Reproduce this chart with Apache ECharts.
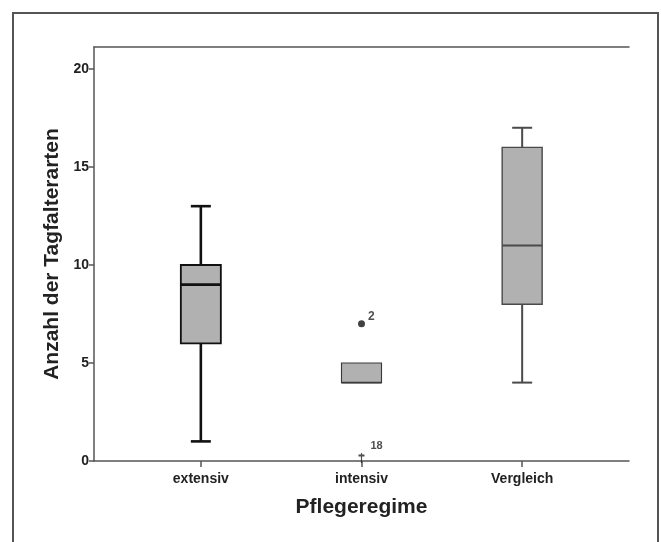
<!DOCTYPE html>
<html>
<head>
<meta charset="utf-8">
<script src="https://cdn.jsdelivr.net/npm/echarts@6/dist/echarts.min.js"></script>
<style>
  html, body { margin: 0; padding: 0; background: #fff; }
  #chart { width: 661px; height: 542px; }
</style>
</head>
<body>
<div id="chart"></div>
<script>
// Boxplot: Anzahl der Tagfalterarten je Pflegeregime
var categories = ['extensiv', 'intensiv', 'Vergleich'];
var mins    = [1, 4, 4];
var q1s     = [6, 4, 8];
var medians = [9, 4, 11];
var q3s     = [10, 5, 16];
var maxs    = [13, 5, 17];
// outliers: [category index, value, case label]
var outlierCat   = [1, 1];
var outlierVal   = [7, 0];
var outlierLabel = ['2', '18'];
var yTicks = [0, 5, 10, 15, 20];

// styles per box
var strokeColors = ['#111', '#3a3a3a', '#4a4a4a'];
var strokeWidths = [2.6, 1.6, 2];

var boxData = categories.map(function (c, i) {
  return [i + 1, mins[i], q1s[i], medians[i], q3s[i], maxs[i]];
});
var dotData = outlierCat.map(function (c, i) {
  return [c + 1, outlierVal[i], outlierLabel[i]];
});

var chart = echarts.init(document.getElementById('chart'));

function renderBox(params, api) {
  var i = params.dataIndex;
  var x = api.value(0);
  var pMin = api.coord([x, api.value(1)]);
  var pQ1 = api.coord([x, api.value(2)]);
  var pMed = api.coord([x, api.value(3)]);
  var pQ3 = api.coord([x, api.value(4)]);
  var pMax = api.coord([x, api.value(5)]);
  var cx = pMed[0];
  var hw = 20, cw = 10;
  var col = strokeColors[i], lw = strokeWidths[i];
  var line = { stroke: col, lineWidth: lw };
  var children = [];
  if (pMin[1] > pQ1[1] + 0.5) {
    children.push({ type: 'line', shape: { x1: cx, y1: pQ1[1], x2: cx, y2: pMin[1] }, style: line });
    children.push({ type: 'line', shape: { x1: cx - cw, y1: pMin[1], x2: cx + cw, y2: pMin[1] }, style: line });
  }
  if (pMax[1] < pQ3[1] - 0.5) {
    children.push({ type: 'line', shape: { x1: cx, y1: pQ3[1], x2: cx, y2: pMax[1] }, style: line });
    children.push({ type: 'line', shape: { x1: cx - cw, y1: pMax[1], x2: cx + cw, y2: pMax[1] }, style: line });
  }
  children.push({
    type: 'rect',
    shape: { x: cx - hw, y: pQ3[1], width: hw * 2, height: pQ1[1] - pQ3[1] },
    style: { fill: '#b1b1b1', stroke: col, lineWidth: lw * 0.7 }
  });
  children.push({ type: 'line', shape: { x1: cx - hw, y1: pMed[1], x2: cx + hw, y2: pMed[1] }, style: line });
  return { type: 'group', children: children };
}

var axisLineStyle = { color: '#555', width: 1.5 };
var fontFam = '"Liberation Sans", Arial, sans-serif';

chart.setOption({
  backgroundColor: '#fff',
  animation: false,
  graphic: [{
    type: 'rect',
    shape: { x: 13, y: 13, width: 645, height: 600 },
    style: { fill: 'none', stroke: '#555', lineWidth: 2 },
    silent: true
  }],
  grid: { left: 94, top: 47, right: 32, bottom: 81 },
  xAxis: [{
    type: 'value',
    min: 0.335,
    max: 3.665,
    axisLine: { show: true, onZero: false, lineStyle: axisLineStyle },
    axisTick: { show: true, length: 6, customValues: [1, 2, 3], lineStyle: axisLineStyle },
    axisLabel: {
      customValues: [1, 2, 3],
      formatter: function (v) { return categories[Math.round(v) - 1] || ''; },
      color: '#222', fontWeight: 'bold', fontSize: 14, fontFamily: fontFam, margin: 11
    },
    splitLine: { show: false },
    name: 'Pflegeregime',
    nameLocation: 'middle',
    nameGap: 36,
    nameTextStyle: { color: '#222', fontWeight: 'bold', fontSize: 21, fontFamily: fontFam }
  }, {
    type: 'value',
    position: 'top',
    min: 0.335,
    max: 3.665,
    axisLine: { show: true, onZero: false, lineStyle: axisLineStyle },
    axisTick: { show: false },
    axisLabel: { show: false },
    splitLine: { show: false }
  }],
  yAxis: {
    type: 'value',
    min: 0,
    max: 21.12,
    interval: 5,
    axisLine: { show: true, lineStyle: axisLineStyle },
    axisTick: { show: true, length: 5, customValues: yTicks, lineStyle: axisLineStyle },
    axisLabel: {
      customValues: yTicks,
      color: '#222', fontWeight: 'bold', fontSize: 14, fontFamily: fontFam, margin: 5
    },
    splitLine: { show: false },
    name: 'Anzahl der Tagfalterarten',
    nameLocation: 'middle',
    nameGap: 30,
    nameTextStyle: { color: '#222', fontWeight: 'bold', fontSize: 21, fontFamily: fontFam }
  },
  series: [{
    type: 'custom',
    renderItem: renderBox,
    encode: { x: 0, y: [1, 2, 3, 4, 5] },
    data: boxData,
    clip: false,
    z: 2
  }, {
    type: 'scatter',
    clip: false,
    data: dotData.map(function (d, i) {
      var isExtreme = i === 1;
      return {
        value: d,
        symbol: isExtreme ? 'path://M4,0L4,12M0,3L8,3' : 'circle',
        symbolSize: isExtreme ? [6, 10] : 7,
        symbolOffset: isExtreme ? [0, -3] : [0, 0],
        itemStyle: isExtreme
          ? { color: 'none', borderColor: '#222', borderWidth: 1.5 }
          : { color: '#111' },
        label: {
          show: true,
          formatter: d[2],
          position: 'right',
          offset: isExtreme ? [-1, -12] : [-2, -7],
          color: '#222',
          fontSize: isExtreme ? 11 : 12,
          fontWeight: 'bold',
          fontFamily: fontFam
        }
      };
    }),
    z: 3
  }]
});
</script>
</body>
</html>
